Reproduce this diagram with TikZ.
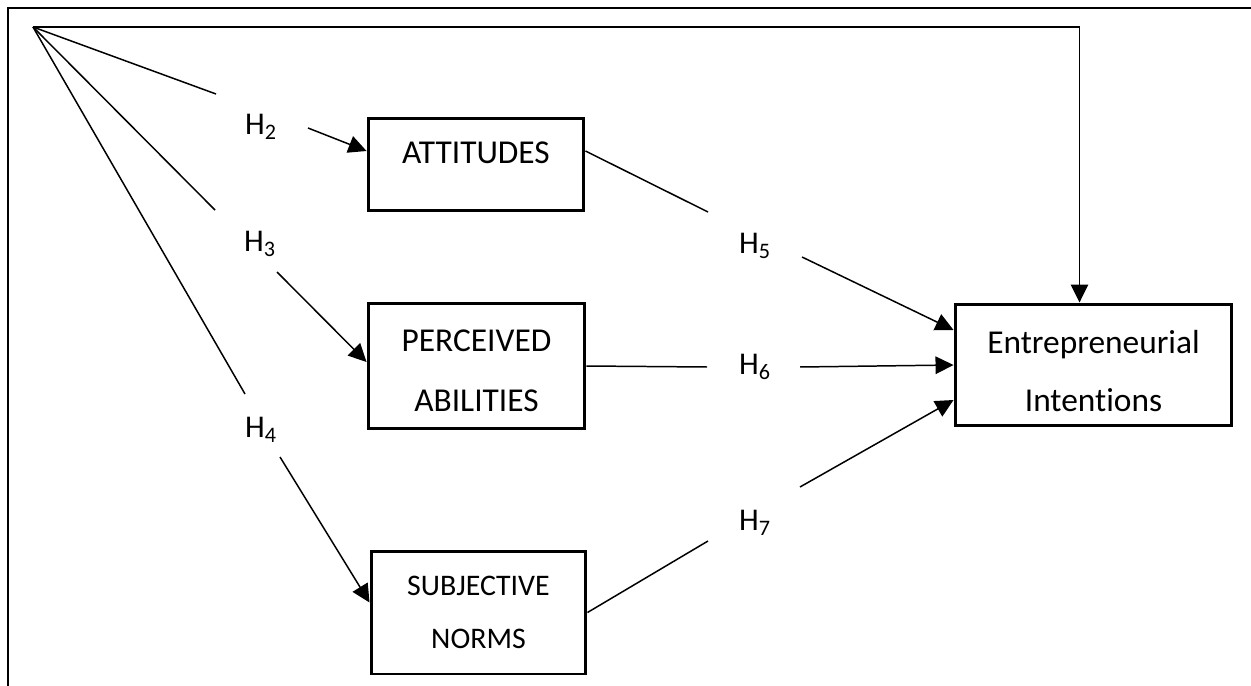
\documentclass[tikz,border=0pt]{standalone}
\usepackage{fontspec}
\setmainfont[Ligatures=NoCommon]{Carlito}
\usetikzlibrary{arrows.meta}
\tikzset{
  box/.style={draw, line width=1.7pt, rectangle, inner sep=0pt},
  boxtext/.style={align=center, inner sep=0pt, font=\fontsize{19}{34}\selectfont},
  smalltext/.style={align=center, inner sep=0pt, font=\fontsize{17}{30.6}\selectfont},
  hyp/.style={inner sep=0pt, font=\fontsize{18}{22}\selectfont},
  conn/.style={line width=0.85pt},
  arr/.style={conn, -{Triangle[length=0.36cm, width=0.35cm]}},
  frame/.style={line width=1.7pt}
}
\begin{document}
\begin{tikzpicture}[x=0.02cm, y=-0.02cm]
\useasboundingbox (0,0) rectangle (1251,686);
\draw[frame] (8,686) -- (8,8) -- (1251,8);

% boxes
\node[box, minimum width=4.32cm, minimum height=1.86cm,
  label={[boxtext, yshift=0.23cm]center:ATTITUDES}] (att) at (476,164.5) {};
\node[box, minimum width=4.34cm, minimum height=2.52cm,
  label={[boxtext, yshift=-0.1cm]center:PERCEIVED\\ABILITIES}] (per) at (476.5,366) {};
\node[box, minimum width=4.30cm, minimum height=2.46cm,
  label={[smalltext]center:SUBJECTIVE\\NORMS}] (sub) at (478.5,612.5) {};
\node[box, minimum width=5.54cm, minimum height=2.44cm,
  label={[boxtext, font=\fontsize{19}{33}\selectfont, yshift=-0.12cm]center:Entrepreneurial\\Intentions}] (ent) at (1093.5,365) {};

% hypothesis labels
\node[hyp] (h2) at (261,127) {H\textsubscript{2}};
\node[hyp] (h3) at (260,244) {H\textsubscript{3}};
\node[hyp] (h4) at (261,430) {H\textsubscript{4}};
\node[hyp] (h5) at (755,246) {H\textsubscript{5}};
\node[hyp] (h6) at (755,367) {H\textsubscript{6}};
\node[hyp] (h7) at (755,523) {H\textsubscript{7}};

% coordinates
\coordinate (O) at (33,27);
\coordinate (tr) at (1079.5,27);
\coordinate (h2a) at (216,94);
\coordinate (h2b) at (308,128);
\coordinate (h3a) at (215,210);
\coordinate (h3b) at (277,272);
\coordinate (h4a) at (245,394);
\coordinate (h4b) at (280,457);
\coordinate (h5a) at (708,212);
\coordinate (h5b) at (802,257);
\coordinate (h6a) at (707,367);
\coordinate (h6b) at (800,367);
\coordinate (h7a) at (708,541);
\coordinate (h7b) at (800,487);

% connectors
\draw[arr] (O) -- (tr) -- (tr |- ent.north);
\draw[conn] (O) -- (h2a);
\draw[arr] (h2b) -- ([yshift=0.27cm]att.west);
\draw[conn] (O) -- (h3a);
\draw[arr] (h3b) -- ([yshift=0.08cm]per.west);
\draw[conn] (O) -- (h4a);
\draw[arr] (h4b) -- ([yshift=0.2cm]sub.west);
\draw[conn] ([yshift=0.27cm]att.east) -- (h5a);
\draw[arr] (h5b) -- ([yshift=0.7cm]ent.west);
\draw[conn] (per.east) -- (h6a);
\draw[arr] (h6b) -- (ent.west);
\draw[conn] (sub.east) -- (h7a);
\draw[arr] (h7b) -- ([yshift=-0.7cm]ent.west);
\end{tikzpicture}
\end{document}
